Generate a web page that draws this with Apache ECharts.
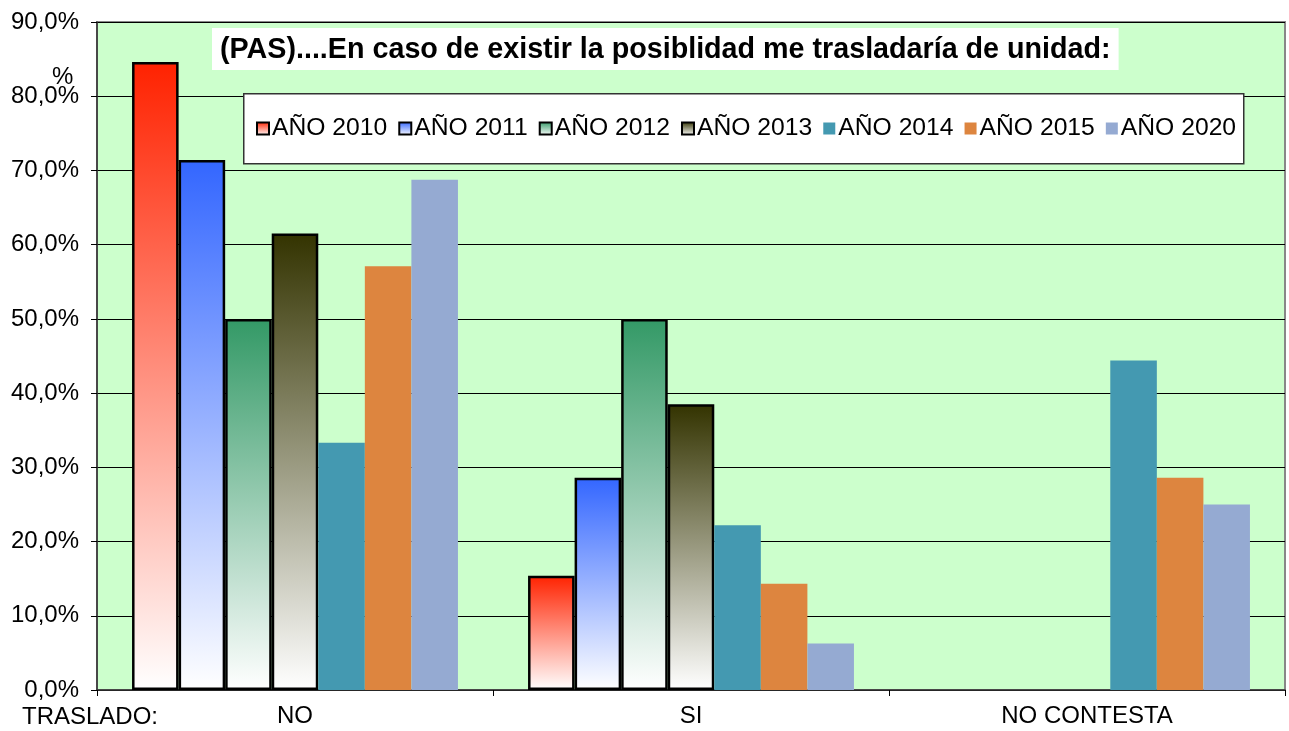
<!DOCTYPE html>
<html><head><meta charset="utf-8">
<script src="https://cdn.jsdelivr.net/npm/echarts@6/dist/echarts.min.js"></script>
<style>html,body{margin:0;padding:0;background:#fff}#c{width:1289px;height:731px}</style>
</head><body><div id="c"></div>
<script>
const categories = ['NO', 'SI', 'NO CONTESTA'];
const seriesNames = ['AÑO 2010', 'AÑO 2011', 'AÑO 2012', 'AÑO 2013', 'AÑO 2014', 'AÑO 2015', 'AÑO 2020'];
const v2010 = [84.6, 15.4, null];
const v2011 = [71.4, 28.6, null];
const v2012 = [50.0, 50.0, null];
const v2013 = [61.5, 38.5, null];
const v2014 = [33.3, 22.2, 44.4];
const v2015 = [57.1, 14.3, 28.6];
const v2020 = [68.75, 6.25, 25.0];
const yTicks = [0, 10, 20, 30, 40, 50, 60, 70, 80, 90];
const titleText = '(PAS)....En caso de existir la posiblidad me trasladaría de unidad:';
const xAxisLead = 'TRASLADO:';
const yUnit = '%';

const values = [v2010, v2011, v2012, v2013, v2014, v2015, v2020];
const FONT = '"Liberation Sans", Arial, sans-serif';
function grad(top) {
  return new echarts.graphic.LinearGradient(0, 0, 0, 1, [
    { offset: 0, color: top }, { offset: 1, color: '#ffffff' }
  ]);
}
const styles = [
  { color: grad('#ff2200'), borderColor: '#000', borderWidth: 2.5 },
  { color: grad('#3366ff'), borderColor: '#000', borderWidth: 2.5 },
  { color: grad('#339966'), borderColor: '#000', borderWidth: 2.5 },
  { color: grad('#333300'), borderColor: '#000', borderWidth: 2.5 },
  { color: '#4499b1' },
  { color: '#dd853f' },
  { color: '#95aad2' }
];

const chart = echarts.init(document.getElementById('c'));
chart.setOption({
  animation: false,
  backgroundColor: '#fff',
  textStyle: { fontFamily: FONT },
  title: {
    text: titleText, left: 212, top: 28, z: 60,
    backgroundColor: '#fff', padding: [6, 8, 4, 8],
    textStyle: { fontSize: 28.7, fontWeight: 'bold', color: '#000', fontFamily: FONT, lineHeight: 32 }
  },
  legend: {
    left: 256, top: 116, padding: 0, itemWidth: 12, itemHeight: 12, itemGap: 11, z: 60,
    icon: 'rect',
    textStyle: { fontSize: 24.7, color: '#000', fontFamily: FONT, padding: [0, 0, 0, -2] },
    data: seriesNames
  },
  grid: {
    left: 97, right: 4, top: 22, bottom: 41, show: true,
    backgroundColor: '#ccffcc', borderColor: '#888', borderWidth: 2
  },
  xAxis: {
    type: 'category', data: categories,
    axisLine: { lineStyle: { color: '#333', width: 1.5 } },
    axisTick: { show: true, length: 6, lineStyle: { color: '#000' } },
    axisLabel: { fontSize: 24, color: '#000', margin: 14, fontFamily: FONT }
  },
  yAxis: {
    type: 'value', min: 0, max: 90, interval: 10,
    axisLine: { show: true, lineStyle: { color: '#333', width: 1.5 } },
    axisTick: { show: true, length: 6, lineStyle: { color: '#000' } },
    splitLine: { lineStyle: { color: '#000', width: 1 } },
    axisLabel: {
      fontSize: 24, color: '#000', margin: 18, fontFamily: FONT,
      formatter: v => (yTicks.includes(v) ? v.toFixed(1).replace('.', ',') + '%' : '')
    }
  },
  graphic: [
    { type: 'rect', left: 243, top: 93, z: 50,
      shape: { width: 1000, height: 70 },
      style: { fill: '#fff', stroke: '#333', lineWidth: 1.5 } },
    { type: 'text', left: 22, top: 705, z: 50,
      style: { text: xAxisLead, font: '24px ' + FONT, fill: '#000' } },
    { type: 'text', left: 52, top: 65, z: 50,
      style: { text: yUnit, font: '24px ' + FONT, fill: '#000' } }
  ],
  series: seriesNames.map((n, i) => ({
    name: n, type: 'bar', data: values[i],
    barGap: '0%', barCategoryGap: '17.7%',
    itemStyle: styles[i]
  }))
});
</script></body></html>
